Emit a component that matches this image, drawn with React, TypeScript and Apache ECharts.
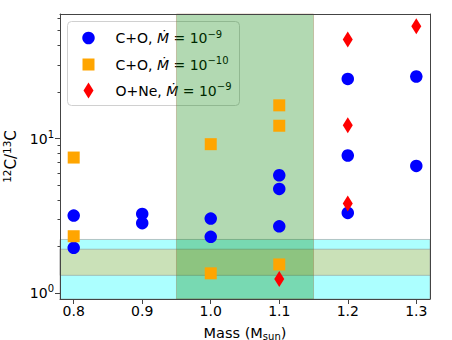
import React, { useEffect, useRef } from 'react';
import * as echarts from 'echarts';

// C+O, Mdot = 1e-9 (blue circles)
const massCO9 = [0.8, 0.8, 0.9, 0.9, 1.0, 1.0, 1.1, 1.1, 1.1, 1.2, 1.2, 1.2, 1.3, 1.3];
const ratioCO9 = [3.17, 1.96, 3.25, 2.83, 3.03, 2.31, 5.78, 4.72, 2.7, 3.3, 24.3, 7.76, 25.2, 6.65];
// C+O, Mdot = 1e-10 (orange squares)
const massCO10 = [0.8, 0.8, 1.0, 1.0, 1.1, 1.1, 1.1];
const ratioCO10 = [7.53, 2.33, 9.19, 1.34, 16.4, 12.1, 1.53];
// O+Ne, Mdot = 1e-9 (red diamonds)
const massONe9 = [1.1, 1.2, 1.2, 1.2, 1.3];
const ratioONe9 = [1.23, 43.8, 12.2, 3.79, 53.4];

const xTicks = [0.8, 0.9, 1.0, 1.1, 1.2, 1.3];
const yMajorTicks = [1, 10];
const yMajorExp = ['0', '1'];
const yMinorTicks = [2, 3, 4, 5, 6, 7, 8, 9, 20, 30, 40, 50, 60];
const xRange = [0.78, 1.32];
const yRange = [0.914, 64];

const massBand = [0.95, 1.15];
const cyanBand = [0.914, 2.22];
const oliveBand = [1.3, 1.92];

const legendPrefix = ['C+O, ', 'C+O, ', 'O+Ne, '];
const legendExp = ['−9', '−10', '−9'];
const legendNames = ['C+O, Ṁ = 10⁻⁹', 'C+O, Ṁ = 10⁻¹⁰', 'O+Ne, Ṁ = 10⁻⁹'];

const FONT = 'DejaVu Sans';
const diamondPath = 'path://M5,0L10,8L5,16L0,8Z';

function zip(xs: number[], ys: number[]) {
  return xs.map((x, i) => [x, ys[i]]);
}

const supRich = {
  t: { fontSize: 14, fontFamily: FONT, color: '#000', lineHeight: 18 },
  i: { fontSize: 14, fontFamily: FONT, color: '#000', fontStyle: 'italic', lineHeight: 18 },
  s: { fontSize: 10, fontFamily: FONT, color: '#000', verticalAlign: 'top', lineHeight: 12 },
};

export default function App() {
  const ref = useRef<HTMLDivElement>(null);
  useEffect(() => {
    document.body.style.margin = '0';
    const chart = echarts.init(ref.current!, null, { renderer: 'svg' });
    const axisColor = '#444';
    const option: any = {
      animation: false,
      backgroundColor: '#fff',
      textStyle: { fontFamily: FONT },
      grid: { left: 60, right: 22, top: 14, bottom: 41, containLabel: false, outerBoundsMode: 'none' },
      xAxis: [
        {
          type: 'value',
          min: xRange[0],
          max: xRange[1],
          position: 'bottom',
          z: 10,
          axisLine: { show: true, lineStyle: { color: axisColor, width: 1 } },
          axisTick: { show: true, customValues: xTicks, length: 5, lineStyle: { color: axisColor } },
          axisLabel: {
            customValues: xTicks,
            formatter: (v: number) => v.toFixed(1),
            fontSize: 14,
            color: '#000',
            margin: 5,
            fontFamily: FONT,
          },
          splitLine: { show: false },
          name: 'Mass (M{sub|sun})',
          nameLocation: 'middle',
          nameGap: 26,
          nameTextStyle: {
            fontSize: 14.5,
            color: '#000',
            fontFamily: FONT,
            rich: {
              sub: { fontSize: 10, fontFamily: FONT, color: '#000', padding: [6, 0, 0, 0] },
            },
          },
        },
        {
          type: 'value',
          min: xRange[0],
          max: xRange[1],
          position: 'top',
          z: 10,
          axisLine: { show: true, lineStyle: { color: axisColor, width: 1 } },
          axisTick: { show: false },
          axisLabel: { show: false },
          splitLine: { show: false },
        },
      ],
      yAxis: [
        {
          type: 'log',
          logBase: 10,
          min: yRange[0],
          max: yRange[1],
          position: 'left',
          z: 10,
          axisLine: { show: true, lineStyle: { color: axisColor, width: 1 } },
          axisTick: { show: true, customValues: yMajorTicks, length: 5, lineStyle: { color: axisColor } },
          axisLabel: {
            customValues: yMajorTicks,
            formatter: (v: number) => {
              const i = yMajorTicks.findIndex((t) => Math.abs(t - v) < 1e-6);
              return i >= 0 ? '{t|10}{s|' + yMajorExp[i] + '}' : '';
            },
            margin: 6,
            rich: supRich,
          },
          splitLine: { show: false },
          minorTick: { show: false },
          name: '{s|12}{t|C/}{s|13}{t|C}',
          nameLocation: 'middle',
          nameRotate: 90,
          nameGap: 36,
          nameTextStyle: {
            fontSize: 15,
            color: '#000',
            fontFamily: FONT,
            align: 'center',
            verticalAlign: 'middle',
            rich: {
              t: { fontSize: 15, fontFamily: FONT, color: '#000', lineHeight: 19 },
              s: { fontSize: 10.5, fontFamily: FONT, color: '#000', verticalAlign: 'top', lineHeight: 12 },
            },
          },
        },
        {
          type: 'log',
          logBase: 10,
          min: yRange[0],
          max: yRange[1],
          position: 'left',
          z: 10,
          axisLine: { show: false },
          axisTick: { show: true, customValues: yMinorTicks, length: 2.5, lineStyle: { color: axisColor } },
          axisLabel: { show: false },
          splitLine: { show: false },
        },
        {
          type: 'log',
          logBase: 10,
          min: yRange[0],
          max: yRange[1],
          position: 'right',
          z: 10,
          axisLine: { show: true, lineStyle: { color: axisColor, width: 1 } },
          axisTick: { show: false },
          axisLabel: { show: false },
          splitLine: { show: false },
        },
      ],
      series: [
        {
          type: 'line',
          data: [],
          z: 1,
          silent: true,
          markArea: {
            silent: true,
            itemStyle: { color: 'rgb(172,255,255)', borderColor: 'rgba(140,140,140,0.5)', borderWidth: 1 },
            data: [[{ xAxis: 'min', yAxis: cyanBand[0] }, { xAxis: 'max', yAxis: cyanBand[1] }]],
          },
        },
        {
          type: 'line',
          data: [],
          z: 2,
          silent: true,
          markArea: {
            silent: true,
            itemStyle: { color: 'rgb(202,225,184)', borderColor: 'rgba(140,140,140,0.5)', borderWidth: 1 },
            data: [[{ xAxis: 'min', yAxis: oliveBand[0] }, { xAxis: 'max', yAxis: oliveBand[1] }]],
          },
        },
        {
          type: 'line',
          data: [],
          z: 3,
          silent: true,
          markArea: {
            silent: true,
            itemStyle: { color: 'rgba(0,128,0,0.3)', borderColor: 'rgba(150,110,60,0.35)', borderWidth: 1 },
            data: [[{ xAxis: massBand[0], yAxis: 'min' }, { xAxis: massBand[1], yAxis: 'max' }]],
          },
        },
        {
          name: legendNames[0],
          type: 'scatter',
          z: 5,
          symbol: 'circle',
          symbolSize: 12.5,
          itemStyle: { color: '#0000ff', opacity: 1 },
          data: zip(massCO9, ratioCO9),
        },
        {
          name: legendNames[1],
          type: 'scatter',
          z: 5,
          symbol: 'rect',
          symbolSize: 12,
          itemStyle: { color: '#ffa500', opacity: 1 },
          data: zip(massCO10, ratioCO10),
        },
        {
          name: legendNames[2],
          type: 'scatter',
          z: 5,
          symbol: diamondPath,
          symbolSize: [10, 16],
          itemStyle: { color: '#ff0000', opacity: 1 },
          data: zip(massONe9, ratioONe9),
        },
      ],
      graphic: [
        {
          type: 'group',
          left: 67,
          top: 21,
          z: 20,
          children: [
            {
              type: 'rect',
              shape: { x: 0, y: 0, width: 172, height: 84, r: 4 },
              style: { fill: 'rgba(255,255,255,0.8)', stroke: '#d0d0d0', lineWidth: 1 },
            },
            { type: 'circle', shape: { cx: 21, cy: 16.5, r: 6.25 }, style: { fill: '#0000ff' } },
            { type: 'rect', shape: { x: 15, y: 37, width: 12, height: 12 }, style: { fill: '#ffa500' } },
            {
              type: 'polygon',
              shape: { points: [[21, 61], [26, 69], [21, 77], [16, 69]] },
              style: { fill: '#ff0000' },
            },
            ...[16.5, 43, 69].map((cy, k) => ({
              type: 'text',
              x: 48,
              y: cy,
              style: {
                text: '{t|' + legendPrefix[k] + '}{i|Ṁ}{t| = 10}{s|' + legendExp[k] + '}',
                rich: supRich,
                fontSize: 14,
                fontFamily: FONT,
                fill: '#000',
                verticalAlign: 'middle',
                textVerticalAlign: 'middle',
              },
            })),
          ],
        },
      ],
    };
    chart.setOption(option);
    return () => chart.dispose();
  }, []);
  return <div ref={ref} style={{ width: 452, height: 340 }} />;
}
